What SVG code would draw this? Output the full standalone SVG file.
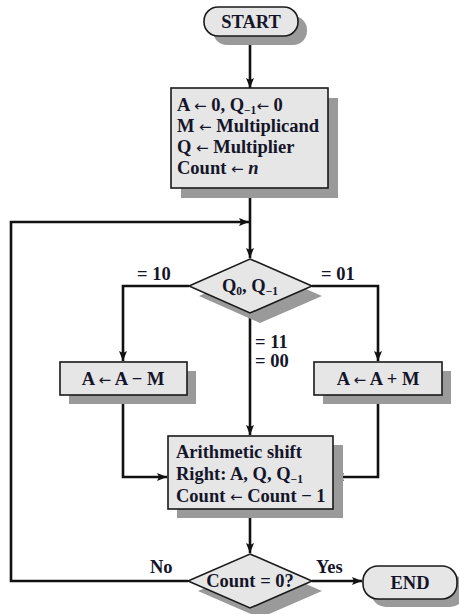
<svg xmlns="http://www.w3.org/2000/svg" width="459" height="614" viewBox="0 0 459 614">
<defs>
<style>
.sh{fill:#9a9a9a;stroke:none}
.bx{fill:#e6e6e6;stroke:#1a1a1a;stroke-width:1.6}
.t{font-family:"Liberation Serif","Times New Roman",serif;font-weight:bold;font-size:18.5px;fill:#15152a}
.c{text-anchor:middle}
.sub{font-size:11.5px}
.ar{font-family:"DejaVu Sans",sans-serif;font-weight:normal;font-size:15px}
.ln{fill:none;stroke:#111;stroke-width:2.6}
</style>
<marker id="ah" viewBox="0 0 10 8" refX="10" refY="4" markerWidth="10" markerHeight="8" markerUnits="userSpaceOnUse" orient="auto">
<path d="M0,0 L10,4 L0,8 L2,4 Z" fill="#111"/>
</marker>
</defs>
<rect width="459" height="614" fill="#fff"/>

<g id="connectors">
<path class="ln" d="M250,35 V88" marker-end="url(#ah)"/>
<path class="ln" d="M250,188 V258" marker-end="url(#ah)"/>
<path class="ln" d="M188,581 H11 V222 H249" marker-end="url(#ah)"/>
<path class="ln" d="M189,286 H123 V361" marker-end="url(#ah)"/>
<path class="ln" d="M312,286 H378 V361" marker-end="url(#ah)"/>
<path class="ln" d="M250,313 V435" marker-end="url(#ah)"/>
<path class="ln" d="M123,395 V477 H167" marker-end="url(#ah)"/>
<path class="ln" d="M378,395 V477 H334" marker-end="url(#ah)"/>
<path class="ln" d="M250,509 V553" marker-end="url(#ah)"/>
<path class="ln" d="M312,581 H362" marker-end="url(#ah)"/>
<text class="t" x="137" y="280">= 10</text>
<text class="t" x="321" y="280">= 01</text>
<text class="t" x="255" y="348">= 11</text>
<text class="t" x="255" y="367">= 00</text>
<text class="t" x="150" y="573">No</text>
<text class="t" x="316" y="573">Yes</text>
</g>

<g id="start">
<rect class="sh" x="213" y="16" width="94" height="29" rx="14"/>
<rect class="bx" x="204" y="7" width="94" height="29" rx="14"/>
<text class="t c" x="251" y="28">START</text>
</g>

<g id="init">
<rect class="sh" x="181" y="98" width="157" height="100"/>
<rect class="bx" x="171" y="88" width="157" height="100"/>
<text class="t" x="177" y="111">A <tspan class="ar">←</tspan> 0, Q<tspan class="sub" dy="3">−1</tspan><tspan class="ar" dy="-3">←</tspan> 0</text>
<text class="t" x="177" y="132">M <tspan class="ar">←</tspan> Multiplicand</text>
<text class="t" x="177" y="153">Q <tspan class="ar">←</tspan> Multiplier</text>
<text class="t" x="177" y="174">Count <tspan class="ar">←</tspan> <tspan font-style="italic">n</tspan></text>
</g>

<g id="decision1">
<polygon class="sh" points="260,269 322,296 260,323 199,296"/>
<polygon class="bx" points="250,259 312,286 250,313 189,286"/>
<text class="t c" x="250" y="292">Q<tspan class="sub" dy="3">0</tspan><tspan dy="-3">, Q</tspan><tspan class="sub" dy="3">−1</tspan></text>
</g>

<g id="sub">
<rect class="sh" x="69" y="371" width="127" height="33"/>
<rect class="bx" x="60" y="362" width="127" height="33"/>
<text class="t c" x="123" y="385">A <tspan class="ar">←</tspan> A − M</text>
</g>

<g id="add">
<rect class="sh" x="323" y="371" width="128" height="33"/>
<rect class="bx" x="314" y="362" width="128" height="33"/>
<text class="t c" x="378" y="385">A <tspan class="ar">←</tspan> A + M</text>
</g>

<g id="shift">
<rect class="sh" x="177" y="445" width="166" height="73"/>
<rect class="bx" x="168" y="436" width="165" height="73"/>
<text class="t" x="176" y="458">Arithmetic shift</text>
<text class="t" x="176" y="480">Right: A, Q, Q<tspan class="sub" dy="3">−1</tspan></text>
<text class="t" x="176" y="502">Count <tspan class="ar">←</tspan> Count − 1</text>
</g>

<g id="decision2">
<polygon class="sh" points="260,564 322,591 260,618 198,591"/>
<polygon class="bx" points="250,554 312,581 250,608 188,581"/>
<text class="t c" x="250" y="587">Count = 0?</text>
</g>

<g id="end">
<rect class="sh" x="371" y="574" width="94" height="33" rx="15"/>
<rect class="bx" x="363" y="566" width="94" height="33" rx="15"/>
<text class="t c" x="410" y="589">END</text>
</g>
</svg>
